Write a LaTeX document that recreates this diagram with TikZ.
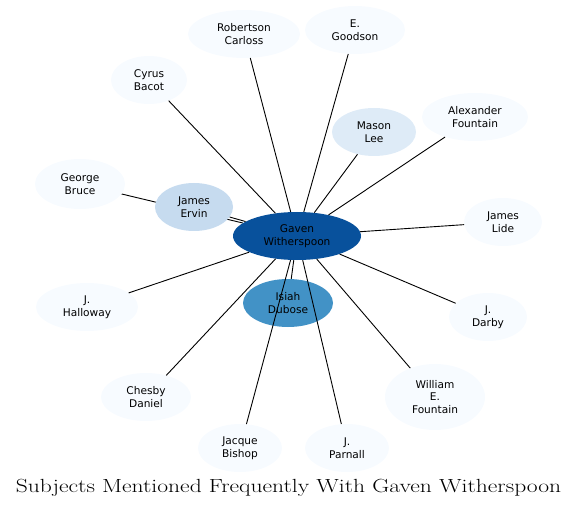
\documentclass[tikz,border=0pt]{standalone}
\usepackage{fontspec}
\usepackage{graphicx}
\newfontfamily\nodefont{DejaVu Sans}
\usetikzlibrary{shapes.geometric}
\pgfdeclarelayer{bg}
\pgfsetlayers{bg,main}
\definecolor{cA}{HTML}{08519C}
\definecolor{cB}{HTML}{4292C6}
\definecolor{cC}{HTML}{C6DBEF}
\definecolor{cD}{HTML}{DEEBF7}
\definecolor{cE}{HTML}{F7FBFF}
\tikzset{
  nd/.style={ellipse, draw=none, inner sep=0pt, align=center,
    font=\nodefont\fontsize{10.6}{12.5}\selectfont, text=black},
  lt/.style={nd, fill=cE},
  edge/.style={draw=black, line width=0.9pt},
}
\begin{document}
\begin{tikzpicture}[x=1pt,y=-1pt]
\useasboundingbox (0,0) rectangle (577,510);
\node[nd, fill=cA, minimum width=128pt, minimum height=48pt] (gw) at (297,236) {Gaven\\Witherspoon};
\node[nd, fill=cB, minimum width=90pt, minimum height=48pt] (id) at (288,303) {Isiah\\Dubose};
\node[nd, fill=cC, minimum width=78pt, minimum height=48pt] (je) at (194,207) {James\\Ervin};
\node[nd, fill=cD, minimum width=84pt, minimum height=48pt] (ml) at (374,132) {Mason\\Lee};
\node[lt, minimum width=112pt, minimum height=48pt] (rc) at (244,34) {Robertson\\Carloss};
\node[lt, minimum width=100pt, minimum height=48pt] (eg) at (355,30) {E.\\Goodson};
\node[lt, minimum width=76pt, minimum height=48pt] (cb) at (149,80) {Cyrus\\Bacot};
\node[lt, minimum width=106pt, minimum height=48pt] (af) at (475,117) {Alexander\\Fountain};
\node[lt, minimum width=90pt, minimum height=50pt] (gb) at (80,184) {George\\Bruce};
\node[lt, minimum width=78pt, minimum height=48pt] (jl) at (503,222) {James\\Lide};
\node[lt, minimum width=102pt, minimum height=48pt] (jh) at (87,307) {J.\\Halloway};
\node[lt, minimum width=78pt, minimum height=48pt] (jd) at (488,317) {J.\\Darby};
\node[lt, minimum width=90pt, minimum height=48pt] (cd) at (146,397) {Chesby\\Daniel};
\node[lt, minimum width=100pt, minimum height=66pt] (wf) at (435,397) {William\\E.\\Fountain};
\node[lt, minimum width=84pt, minimum height=48pt] (jb) at (240,448) {Jacque\\Bishop};
\node[lt, minimum width=84pt, minimum height=48pt] (jp) at (347,448) {J.\\Parnall};
\node[font=\fontsize{19}{22}\selectfont] (title) at (288.5,488) {\scalebox{1.24}[1]{Subjects Mentioned Frequently With Gaven Witherspoon}};
\begin{pgfonlayer}{bg}
\draw[edge] (gb) -- (gw);
\end{pgfonlayer}
\foreach \n in {id,ml,rc,eg,cb,af,jl,jh,jd,cd,wf,jb,jp}
  \draw[edge] (gw) -- (\n);
\draw[edge] (gw) -- (je);
\end{tikzpicture}
\end{document}
